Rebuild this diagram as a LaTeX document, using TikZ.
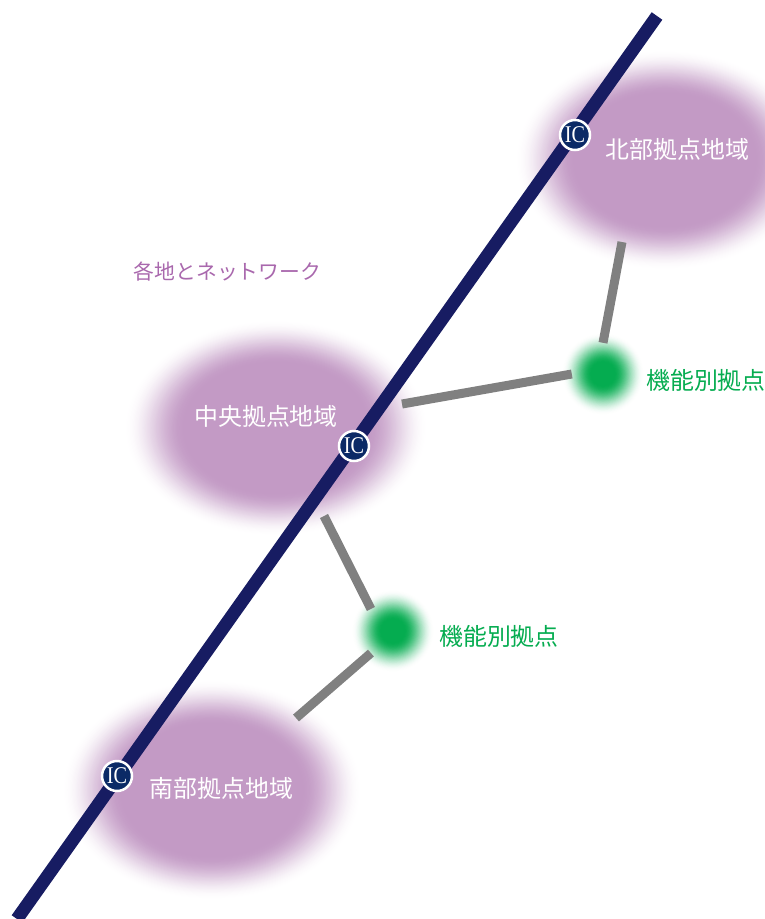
\documentclass[tikz,border=0pt]{standalone}
\usepackage{fontspec}
\usetikzlibrary{shapes.geometric}
\newfontfamily\cjk{Noto Sans CJK JP}
\newfontfamily\icfont[FakeStretch=0.84]{Liberation Serif}
\definecolor{blobpurple}{HTML}{C39AC5}
\definecolor{blobgreen}{HTML}{05AC50}
\definecolor{roadblue}{HTML}{171C62}
\definecolor{icblue}{HTML}{0B2A66}
\definecolor{linkgray}{HTML}{808080}
\definecolor{titlepurple}{HTML}{A968AD}
\definecolor{labelgreen}{HTML}{05AC50}
\tikzset{
  x=1pt,y=-1pt,
  road/.style={draw=roadblue,line width=13pt},
  link/.style={draw=linkgray,line width=9pt},
  icmark/.style={circle,draw=white,fill=icblue,line width=2.5pt,minimum size=30pt,inner sep=0pt,text=white,font=\icfont\fontsize{24}{24}\selectfont},
  arealabel/.style={text=white,font=\cjk\fontsize{23.9}{25}\selectfont,inner sep=0pt},
  greenlabel/.style={text=labelgreen,font=\cjk\fontsize{23.9}{25}\selectfont,inner sep=0pt},
  titlelabel/.style={text=titlepurple,font=\cjk\fontsize{20.8}{22}\selectfont,inner sep=0pt},
  hub/.style={circle,minimum size=62pt,inner sep=0pt},
}
\newcommand{\softblob}[5]{% x,y,rx,ry,colour
  \foreach \i in {0,...,50}{
    \pgfmathsetmacro{\t}{\i/50}
    \pgfmathsetmacro{\m}{100*\t*\t*(3-2*\t)}
    \pgfmathsetmacro{\sc}{1-0.40*\t}
    \fill[#5!\m!white] (#1,#2) ellipse [x radius={#3*\sc},y radius={#4*\sc}];
  }
}
\newcommand{\softdot}[3]{% x,y,colour
  \foreach \i in {0,...,36}{
    \pgfmathsetmacro{\t}{\i/36}
    \pgfmathsetmacro{\m}{100*\t*\t*(3-2*\t)}
    \pgfmathsetmacro{\sc}{1-0.72*\t}
    \fill[#3!\m!white] (#1,#2) circle [radius={41*\sc}];
  }
}
\begin{document}
\begin{tikzpicture}
\useasboundingbox (0,0) rectangle (765,919);
\softblob{665}{160}{150}{110}{blobpurple}
\softblob{276}{428}{152}{108}{blobpurple}
\softblob{212}{790}{150}{110}{blobpurple}
\softdot{603}{374}{blobgreen}
\softdot{393}{631}{blobgreen}
\coordinate (roadtop) at (657,16);
\coordinate (roadend) at (17,919);
\draw[road] (roadtop) -- (roadend);
\node[hub] (hubn) at (603,374) {};
\node[hub] (hubs) at (393,631) {};
\coordinate (northend) at (622,242);
\coordinate (centerend) at (402,404);
\coordinate (centerlow) at (324,516);
\coordinate (southend) at (296,718);
\draw[link] (northend) -- (hubn.north);
\draw[link] (centerend) -- (hubn.west);
\draw[link] (centerlow) -- (hubs.135);
\draw[link] (southend) -- (hubs.225);
\node[icmark] (icn) at (575,135) {IC};
\node[icmark] (icc) at (354,446) {IC};
\node[icmark] (ics) at (117,776) {IC};
\node[arealabel] (ln) at (677.5,149) {北部拠点地域};
\node[arealabel] (lc) at (266,416) {中央拠点地域};
\node[arealabel] (ls) at (221.5,788) {南部拠点地域};
\node[greenlabel] (g1) at (706,380) {機能別拠点};
\node[greenlabel] (g2) at (499,636) {機能別拠点};
\node[titlelabel] (tt) at (227.5,272) {各地とネットワーク};
\end{tikzpicture}
\end{document}
